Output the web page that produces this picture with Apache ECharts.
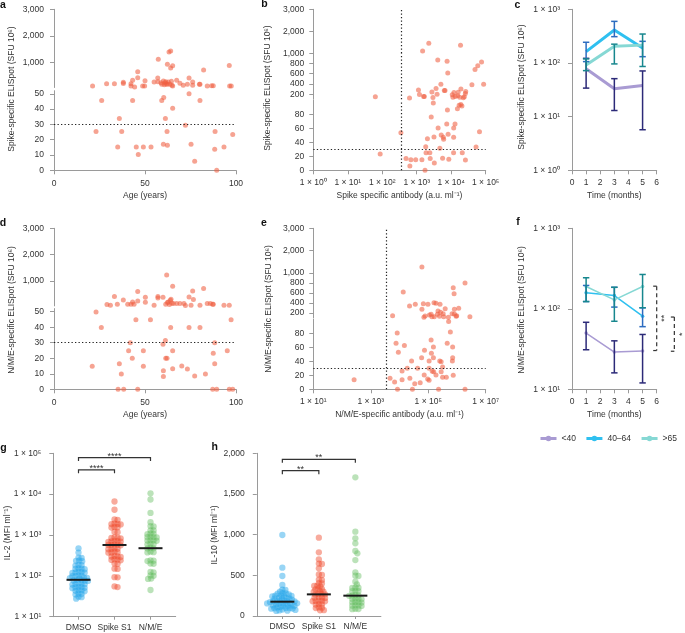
<!DOCTYPE html>
<html><head><meta charset="utf-8">
<script src="https://cdn.jsdelivr.net/npm/echarts@6/dist/echarts.min.js"></script>
<style>html,body{margin:0;padding:0;background:#fff}#c{width:685px;height:633px}</style>
</head><body><div id="c"></div>
<script>
// ---------------- DATA ----------------
// a: age vs Spike-specific ELISpot
const spikeAge = [[21.2,107],[28.9,193],[33.2,193],[38.1,246],[38.1,200],[42.3,193],[42.3,107],[43.2,321],[44.3,69],[46,646],[46,420],[48.7,107],[49.8,107],[50,308],[55,258],[57,407],[57.1,270],[57.3,1113],[58.8,233],[59.2,170],[60.1,295],[60.6,157],[61,233],[61.4,270],[61.7,182],[62.3,170],[62.3,925],[62.8,258],[63.2,1388],[63.7,170],[64.1,1425],[64.1,785],[64.5,283],[64.8,132],[65.2,870],[65.2,107],[67.4,321],[69.2,207],[71,132],[73.3,170],[74.2,407],[76.2,258],[76.2,132],[79.9,170],[80.2,170],[82.2,710],[84.2,107],[86.6,120],[87.5,120],[96.3,883],[96.5,107],[97.4,107],
 [26.2,45.6],[35.9,33.8],[35,15.3],[37.2,25.3],[23.1,25.3],[43.2,45.6],[45.2,15.3],[46.3,10.3],[49.1,15.3],[53.3,15.3],[59.2,45.6],[60.3,47.6],[60.1,17],[61.2,33.8],[62.1,25.3],[62.3,16.4],[65.2,40.6],[72.2,29.5],[74.2,50],[75.3,17],[77.3,5.9],[80.2,45.6],[88.5,25.3],[88.3,13.8],[89.4,0],[93.4,15.3],[98.2,23.4]];
// d: age vs N/M/E-specific ELISpot
const nmeAge = [[29.1,101],[31,76],[33.2,404],[34.8,113],[38.1,278],[40.5,113],[42.3,113],[43.2,202],[44,113],[46,594],[46,240],[50.2,379],[50.2,189],[55,76],[57.1,404],[57.1,354],[59.9,379],[61.4,113],[61.9,1227],[62.3,177],[62.8,202],[63.4,101],[63.9,265],[64.3,303],[64.7,151],[65.2,797],[65.6,139],[67.4,139],[69.2,139],[71.4,139],[72.2,63],[74.2,392],[75.3,76],[76.2,620],[76.6,291],[80.2,76],[82.2,708],[84.2,139],[85.9,139],[87.2,113],[87.5,113],[93.4,76],[96.3,76],
 [21,14.8],[23.1,49.8],[26,39.9],[35.2,0],[35.9,16.5],[37,9.9],[38.3,0],[41,24.9],[41.9,30],[43,20],[45,44.8],[46,0],[49.1,24.9],[49.1,14.8],[53,44.8],[59.9,29],[60.1,12],[60.1,8.2],[61.2,31.5],[61.4,20],[62.1,20],[64.1,39.9],[65.2,24.9],[65.2,13.3],[70.2,15],[73.3,13.1],[74.2,39.9],[77.3,8.6],[80.2,39.9],[83.2,9.9],[87.2,0],[87.5,23.2],[88.3,30],[88.3,16.5],[89.4,0],[95.2,24.9],[96.3,0],[97.3,44.8],[98.2,0]];
// b: Spike antibody vs Spike ELISpot
const spikeAb = [[63,148],[87,23.3],[347,53.8],[490,16.7],[617,123],[631,6.2],[676,15.2],[933,15.2],[1122,284],[1202,194],[1413,15.2],[1479,1108],[1585,155],[1660,155],[1738,0],[1820,33.8],[1862,25.2],[2042,45.2],[2239,1462],[2399,25.2],[2455,16.7],[2630,76.2],[2754,245],[3020,96],[2951,135],[3162,47.6],[3236,10.5],[3631,310],[3890,200],[4074,871],[4169,60.5],[4677,31.4],[5012,394],[5129,50.5],[5623,17.1],[5888,47.1],[6310,271],[6607,271],[6026,44.3],[7413,66.2],[7586,845],[7762,86.2],[7943,613],[8128,51.4],[8511,15.7],[10715,187],[11220,142],[11749,47.1],[11800,60.5],[12023,232],[12882,66.2],[13183,155],[11700,25.2],[15136,88],[15488,168],[15849,239],[16982,93],[17783,142],[18621,1370],[19055,94],[19100,300],[20417,92],[20893,25.2],[22387,129],[23988,148],[25704,213],[25800,14.8],[26303,252],[39811,387],[48978,684],[52481,33.3],[58884,755],[66069,55.2],[75858,832],[87096,394]];
// e: N/M/E antibody vs N/M/E ELISpot
const nmeAb = [[263,13.8],[4677,15.7],[5754,147],[6761,10.5],[7586,65.7],[8318,80.5],[8511,0],[9120,52.9],[12303,26.2],[12300,13.8],[13490,620],[14791,62.4],[18621,30],[22387,340],[22909,15.7],[26303,40.5],[28184,0],[33884,8.1],[35481,373],[42658,30],[52481,9.5],[58884,45.2],[60256,1268],[60300,273],[67608,387],[70795,113],[72444,20.5],[74131,55.7],[77625,140],[95499,14.8],[97724,373],[107152,40.5],[107200,12.9],[107100,30],[109648,160],[125893,70.5],[125900,173],[128825,51.4],[134896,127],[138038,25.7],[151356,45.2],[151400,60.5],[154882,25.2],[158489,407],[162181,127],[186209,393],[186200,20.5],[208930,173],[218776,240],[229087,0],[245471,133],[251189,40.5],[257040,373],[269153,213],[281838,39.5],[281800,25.2],[316228,31.9],[316200,17.1],[331131,187],[346737,127],[389045,287],[426580,17.1],[457088,65.7],[501187,113],[512861,97],[588844,81.9],[676083,187],[691831,40.5],[707946,45.2],[707900,60.5],[741310,707],[741300,20],[794328,587],[812831,273],[812800,180],[933254,133],[977237,147],[1148154,293],[1905461,0],[1905500,800],[2818383,127]];
const spikeAbCut = 350, nmeAbCut = 3500, sfuCut = 30;

// c, f: time courses by age group
const months = [1, 3, 5];
const groups = ['<40', '40–64', '>65'];
const cMean = [[78, 33, 38], [163, 412, 190], [92, 204, 215]];
const cErr = [[[34,122],[13,51],[5.7,71]], [[106,243],[309,596],[131,253]], [[72,119],[96,224],[86,346]]];
const fMean = [[50, 29, 30], [158, 146, 81], [189, 129, 189]];
const fErr = [[[31,68],[16,40],[12,48]], [[123,195],[105,185],[60,103]], [[123,243],[70,185],[103,267]]];
// f significance brackets: [x (months), top, bottom, label]
const fSig = [[6.0, 191, 30.3, '**'], [7.25, 79, 29.7, '*']];

// g, h: cytokines
const stimCats = ['DMSO', 'Spike S1', 'N/M/E'];
const il2DMSO = [473,372,275,280,233,236,228,182,185,178,148,150,145,152,122,124,120,118,126,101,103,99,98,89,90,88,87,77,78,76,79,75,63,64,62,65,61,52,53,51,54,50,44,45,43,42,36,37,35,30,31,27.6];
const il2Spike = [6600,4150,2350,2400,1870,1900,1820,1850,1550,1580,1520,1170,1190,850,870,830,860,700,720,690,710,680,575,580,570,560,590,460,470,455,450,380,390,375,370,296,300,290,305,245,250,240,255,197,200,148,150,92,93,53,55];
const il2NME = [10500,7400,3480,2050,1620,1650,1290,1300,1070,1080,1050,880,890,870,900,730,740,720,750,600,610,590,473,480,470,380,390,375,235,240,230,197,200,122,125,100,102,84,86,45];
const il2Median = [80, 570, 475];
const il2Sig = [[1, 3, 78700, '****'], [1, 2, 39400, '****']];
const il10DMSO = [996,594,492,381,320,325,279,282,276,250,252,248,246,217,220,215,213,222,184,188,180,186,182,178,156,160,152,158,154,150,127,130,125,122,128,94,97,92,90,96,65,68,62,200,170,140,110,240,265,300,75,80,105];
const il10Spike = [963,783,697,639,645,586,504,510,442,448,401,405,369,372,365,332,335,328,299,302,296,266,270,262,268,225,228,222,230,184,188,180,186,182,143,146,140,102,105,98,70,72];
const il10NME = [1705,1037,955,893,799,770,688,537,492,496,422,389,348,350,345,307,310,304,250,252,248,255,209,212,206,215,168,170,165,172,127,130,124,132,86,88,84];
const il10Median = [176, 266, 250];
const il10Sig = [[1, 3, 1926, '**'], [1, 2, 1786, '**']];

// ---------------- STYLE ----------------
const AX = '#9a9a9a', TX = '#333', FS = 8.5, FF = '"Liberation Sans", Arial, sans-serif';
const DOT = 'rgba(240,96,66,0.72)';
const lineCol = ['#a99bd3', '#2fc0f0', '#86d8d4'];
const barCol = ['#2c2a78', '#2c6cc0', '#17878e'];
const swarmCol = ['rgba(40,168,235,0.6)', 'rgba(240,80,50,0.6)', 'rgba(100,190,95,0.55)'];
const SUP = {'0':'⁰','1':'¹','2':'²','3':'³','4':'⁴','5':'⁵','6':'⁶','7':'⁷','8':'⁸','9':'⁹','-':'⁻'};
const sup = s => String(s).split('').map(c => SUP[c] || c).join('');
const sci = v => '1 × 10' + sup(Math.round(Math.log10(v)));
const comma = v => Number(v).toLocaleString('en-US');

const grids = [
  {left:54, top:9.3, width:182, height:78.2},      // 0 a top
  {left:54, top:90.7, width:182, height:79.6},     // 1 a bottom
  {left:313.3, top:9.3, width:172.4, height:44},   // 2 b top
  {left:313.3, top:53.3, width:172.4, height:46},  // 3 b mid
  {left:313.3, top:100.3, width:172.4, height:70}, // 4 b bottom
  {left:572, top:9.3, width:84.7, height:161},     // 5 c
  {left:54, top:228.3, width:182, height:77.6},    // 6 d top
  {left:54, top:308.6, width:182, height:80.7},    // 7 d bottom
  {left:313.3, top:228.3, width:172.4, height:44.7},// 8 e top
  {left:313.3, top:273, width:172.4, height:45},   // 9 e mid
  {left:313.3, top:319.3, width:172.4, height:70}, // 10 e bottom
  {left:572, top:228.3, width:84.7, height:161},   // 11 f
  {left:53.3, top:453.3, width:122.4, height:163.4},// 12 g
  {left:256.8, top:453.3, width:124.1, height:162.7}// 13 h
].map(g => Object.assign({containLabel:false, outerBoundsMode:'none'}, g));

function axis(g, o) {
  const a = {gridIndex:g, type:o.type || 'value', min:o.min, max:o.max, show:o.show !== false,
    axisLine:{show:true, onZero:false, lineStyle:{color:AX, width:1}},
    axisTick:{show:o.tick !== 0, length:o.tick || 4, lineStyle:{color:AX}},
    axisLabel:{color:TX, fontSize:FS, fontFamily:FF, margin:o.margin == null ? 8 : o.margin, formatter:o.fmt, showMinLabel:true, showMaxLabel:true, hideOverlap:false},
    splitLine:{show:false}, minorTick:{show:false}};
  if (o.interval) a.interval = o.interval;
  if (o.vals) { a.axisLabel.customValues = o.vals; a.axisTick.customValues = o.vals; }
  if (o.type === 'log') a.logBase = 10;
  if (o.name) { a.name = o.name; a.nameLocation = 'middle'; a.nameGap = o.nameGap || 21;
    a.nameTextStyle = {color:TX, fontSize:FS, fontFamily:FF}; }
  return a;
}

const xAxes = [
  axis(0, {min:0, max:100, show:false}),
  axis(1, {min:0, max:100, interval:50, margin:9, name:'Age (years)'}),
  axis(2, {type:'log', min:1, max:1e5, show:false}),
  axis(3, {type:'log', min:1, max:1e5, show:false}),
  axis(4, {type:'log', min:1, max:1e5, fmt:sci, margin:8, name:'Spike specific antibody (a.u. ml' + sup('-1') + ')'}),
  axis(5, {min:0, max:6, interval:1, margin:8, name:'Time (months)'}),
  axis(6, {min:0, max:100, show:false}),
  axis(7, {min:0, max:100, interval:50, margin:9, name:'Age (years)'}),
  axis(8, {type:'log', min:10, max:1e7, show:false}),
  axis(9, {type:'log', min:10, max:1e7, show:false}),
  axis(10, {type:'log', min:10, max:1e7, fmt:sci, vals:[10, 1e3, 1e5, 1e7], margin:8, name:'N/M/E-specific antibody (a.u. ml' + sup('-1') + ')'}),
  axis(11, {min:0, max:6, interval:1, margin:8, name:'Time (months)'}),
  axis(12, {min:0.3, max:3.7, vals:[1, 2, 3], fmt:v => stimCats[Math.round(v) - 1], margin:6, tick:3}),
  axis(13, {min:0.3, max:3.7, vals:[1, 2, 3], fmt:v => stimCats[Math.round(v) - 1], margin:6, tick:3})
];
const yAxes = [
  axis(0, {min:50, max:3000, vals:[1000, 2000, 3000], fmt:comma, margin:10}),
  axis(1, {min:0, max:52, vals:[0, 10, 20, 30, 40, 50], margin:10}),
  axis(2, {min:1000, max:3000, vals:[2000, 3000], fmt:comma, margin:9}),
  axis(3, {min:100, max:1000, vals:[200, 400, 600, 800, 1000], fmt:comma, margin:9}),
  axis(4, {min:0, max:100, vals:[0, 20, 40, 60, 80], margin:9}),
  axis(5, {type:'log', min:1, max:1000, fmt:sci, margin:12}),
  axis(6, {min:50, max:3000, vals:[1000, 2000, 3000], fmt:comma, margin:10}),
  axis(7, {min:0, max:52, vals:[0, 10, 20, 30, 40, 50], margin:10}),
  axis(8, {min:1000, max:3000, vals:[2000, 3000], fmt:comma, margin:9}),
  axis(9, {min:100, max:1000, vals:[200, 400, 600, 800, 1000], fmt:comma, margin:9}),
  axis(10, {min:0, max:100, vals:[0, 20, 40, 60, 80], margin:9}),
  axis(11, {type:'log', min:10, max:1000, fmt:sci, margin:12}),
  axis(12, {type:'log', min:10, max:1e5, fmt:sci, margin:12}),
  axis(13, {min:0, max:2000, interval:500, fmt:comma, margin:12})
];

const dotted = {type:[1.3, 2.2], color:'#222', width:1.2};
function mark(lines) {
  return {silent:true, symbol:'none', animation:false, label:{show:false}, lineStyle:dotted, data:lines};
}
function scatter(g, data, lines) {
  return {type:'scatter', xAxisIndex:g, yAxisIndex:g, data:data, symbolSize:5,
    itemStyle:{color:DOT}, markLine:lines ? mark(lines) : undefined, z:3};
}
const series = [];
// a
series.push(scatter(0, spikeAge.filter(p => p[1] > 52)));
series.push(scatter(1, spikeAge.filter(p => p[1] <= 52), [{yAxis:sfuCut}]));
// d
series.push(scatter(6, nmeAge.filter(p => p[1] > 52)));
series.push(scatter(7, nmeAge.filter(p => p[1] <= 52), [{yAxis:sfuCut}]));
// b
series.push(scatter(2, spikeAb.filter(p => p[1] > 1000), [{xAxis:spikeAbCut}]));
series.push(scatter(3, spikeAb.filter(p => p[1] > 100 && p[1] <= 1000), [{xAxis:spikeAbCut}]));
series.push(scatter(4, spikeAb.filter(p => p[1] <= 100), [{xAxis:spikeAbCut}, {yAxis:sfuCut}]));
// e
series.push(scatter(8, nmeAb.filter(p => p[1] > 1000), [{xAxis:nmeAbCut}]));
series.push(scatter(9, nmeAb.filter(p => p[1] > 100 && p[1] <= 1000), [{xAxis:nmeAbCut}]));
series.push(scatter(10, nmeAb.filter(p => p[1] <= 100), [{xAxis:nmeAbCut}, {yAxis:sfuCut}]));

// c, f lines and error bars
function errSeries(g, errs, color) {
  return {type:'custom', xAxisIndex:g, yAxisIndex:g, z:5, silent:true,
    data: months.map((m, i) => [m, errs[i][0], errs[i][1]]),
    encode:{x:0, y:[1, 2]},
    renderItem: (params, api) => {
      const x = api.value(0);
      const p1 = api.coord([x, api.value(2)]), p2 = api.coord([x, api.value(1)]);
      const w = 3.2, st = {stroke:color, lineWidth:1.5};
      return {type:'group', children:[
        {type:'line', shape:{x1:p1[0], y1:p1[1], x2:p2[0], y2:p2[1]}, style:st},
        {type:'line', shape:{x1:p1[0]-w, y1:p1[1], x2:p1[0]+w, y2:p1[1]}, style:st},
        {type:'line', shape:{x1:p2[0]-w, y1:p2[1], x2:p2[0]+w, y2:p2[1]}, style:st}]};
    }};
}
groups.forEach((name, k) => {
  series.push({type:'line', name:name, xAxisIndex:11, yAxisIndex:11, z:4,
    data: months.map((m, i) => [m, fMean[k][i]]), symbol:'circle', symbolSize:3.5, showSymbol:true,
    lineStyle:{color:lineCol[k], width:1.5}, itemStyle:{color:lineCol[k]}});
});
groups.forEach((name, k) => {
  series.push({type:'line', name:name, xAxisIndex:5, yAxisIndex:5, z:4,
    data: months.map((m, i) => [m, cMean[k][i]]), symbol:'none', showSymbol:false,
    lineStyle:{color:lineCol[k], width:3}, itemStyle:{color:lineCol[k]}});
});
groups.forEach((name, k) => {
  series.push(errSeries(5, cErr[k], barCol[k]));
  series.push(errSeries(11, fErr[k], barCol[k]));
});
// f significance brackets (dashed)
series.push({type:'custom', xAxisIndex:11, yAxisIndex:11, clip:false, silent:true, z:6,
  data: fSig.map(s => [s[0], s[1], s[2]]),
  renderItem: (params, api) => {
    const s = fSig[params.dataIndex];
    const p1 = api.coord([api.value(0), api.value(1)]), p2 = api.coord([api.value(0), api.value(2)]);
    const st = {stroke:'#333', lineWidth:1.2, lineDash:[4, 3]};
    return {type:'group', children:[
      {type:'line', shape:{x1:p1[0], y1:p1[1], x2:p2[0], y2:p2[1]}, style:st},
      {type:'line', shape:{x1:p1[0]-3.5, y1:p1[1], x2:p1[0], y2:p1[1]}, style:{stroke:'#333', lineWidth:1.2}},
      {type:'line', shape:{x1:p2[0]-3.5, y1:p2[1], x2:p2[0], y2:p2[1]}, style:{stroke:'#333', lineWidth:1.2}},
      {type:'text', x:p1[0] + 8, y:(p1[1] + p2[1]) / 2, rotation:Math.PI / 2,
        style:{text:s[3], fill:'#333', fontSize:9, fontFamily:FF, align:'center', verticalAlign:'middle'}}]};
  }});

// g, h swarms, medians, significance
function swarmSeries(id, g, vals, k) {
  return {id:id, type:'scatter', xAxisIndex:g, yAxisIndex:g, z:3, symbolSize:6.3,
    itemStyle:{color:swarmCol[k]}, data: vals.map(v => [k + 1, v])};
}
series.push(swarmSeries('g0', 12, il2DMSO, 0), swarmSeries('g1', 12, il2Spike, 1), swarmSeries('g2', 12, il2NME, 2));
series.push(swarmSeries('h0', 13, il10DMSO, 0), swarmSeries('h1', 13, il10Spike, 1), swarmSeries('h2', 13, il10NME, 2));
function medianSeries(g, med) {
  return {type:'custom', xAxisIndex:g, yAxisIndex:g, z:6, silent:true,
    data: med.map((m, i) => [i + 1, m]),
    renderItem: (params, api) => {
      const p = api.coord([api.value(0), api.value(1)]);
      return {type:'line', shape:{x1:p[0]-12, y1:p[1], x2:p[0]+12, y2:p[1]}, style:{stroke:'#1a1a1a', lineWidth:2}};
    }};
}
function sigSeries(g, sig) {
  return {type:'custom', xAxisIndex:g, yAxisIndex:g, z:6, silent:true, clip:false,
    data: sig.map(s => [s[0], s[1], s[2]]),
    renderItem: (params, api) => {
      const a = api.coord([api.value(0), api.value(2)]), b = api.coord([api.value(1), api.value(2)]);
      const st = {stroke:'#333', lineWidth:1.2, fill:null};
      return {type:'group', children:[
        {type:'polyline', shape:{points:[[a[0], a[1]+3.5], [a[0], a[1]], [b[0], b[1]], [b[0], b[1]+3.5]]}, style:st},
        {type:'text', x:(a[0]+b[0]) / 2, y:a[1] - 1.5, style:{text:sig[params.dataIndex][3], fill:'#333', fontSize:9, fontFamily:FF, align:'center', verticalAlign:'middle'}}]};
    }};
}
series.push(medianSeries(12, il2Median), medianSeries(13, il10Median), sigSeries(12, il2Sig), sigSeries(13, il10Sig));

// titles & panel letters
const tStyle = {fill:TX, fontSize:FS, fontFamily:FF, align:'center', verticalAlign:'middle'};
function ytitle(x, y, text) { return {type:'text', x:x, y:y, rotation:Math.PI / 2, style:Object.assign({text:text}, tStyle)}; }
function letter(x, y, t) { return {type:'text', x:x, y:y, style:{text:t, fill:'#111', fontSize:10.5, fontWeight:'bold', fontFamily:FF, align:'center', verticalAlign:'middle'}}; }
const spikeT = 'Spike-specific ELISpot (SFU 10' + sup(6) + ')';
const nmeT = 'N/M/E-specific ELISpot (SFU 10' + sup(6) + ')';
const graphic = [
  ytitle(11.7, 89, spikeT), ytitle(267.8, 88, spikeT), ytitle(521.7, 87, spikeT),
  ytitle(11.7, 310, nmeT), ytitle(268.3, 309, nmeT), ytitle(521.7, 310, nmeT),
  ytitle(8, 533, 'IL-2 (MFI ml' + sup('-1') + ')'), ytitle(215, 535, 'IL-10 (MFI ml' + sup('-1') + ')'),
  letter(3, 5, 'a'), letter(264.5, 4.5, 'b'), letter(517.5, 5, 'c'),
  letter(3, 223, 'd'), letter(264, 223, 'e'), letter(518, 222.5, 'f'),
  letter(3.5, 448, 'g'), letter(214.8, 447.5, 'h')
];

const chart = echarts.init(document.getElementById('c'), null, {renderer:'canvas'});
const option = {
  animation:false, backgroundColor:'#fff',
  textStyle:{fontFamily:FF},
  grid:grids, xAxis:xAxes, yAxis:yAxes, series:series, graphic:graphic,
  legend:{left:539, top:434, width:300, orient:'horizontal', itemWidth:16, itemHeight:7, itemGap:9, selectedMode:false,
    padding:0, data:groups, textStyle:{color:TX, fontSize:FS, fontFamily:FF},
    lineStyle:{width:3}}
};
chart.setOption(option);

// beeswarm layout computed from the axis scale
function swarmLayout(g, vals, k, D) {
  const base = chart.convertToPixel({gridIndex:g}, [k + 1, 1000]);
  const next = chart.convertToPixel({gridIndex:g}, [k + 2, 1000]);
  const unit = next[0] - base[0];
  const pts = vals.map(v => ({v:v, py:chart.convertToPixel({gridIndex:g}, [k + 1, v])[1]}));
  pts.sort((a, b) => a.py - b.py);
  const placed = [];
  for (const p of pts) {
    const near = placed.filter(q => Math.abs(q.py - p.py) < D);
    const cands = [0];
    for (const q of near) { const dx = Math.sqrt(D * D - (q.py - p.py) ** 2); cands.push(q.px + dx + 0.01, q.px - dx - 0.01); }
    cands.sort((a, b) => Math.abs(a) - Math.abs(b));
    for (const c of cands) {
      if (near.every(q => (q.px - c) ** 2 + (q.py - p.py) ** 2 >= D * D - 0.01)) { p.px = c; break; }
    }
    placed.push(p);
  }
  return placed.map(p => [k + 1 + p.px / unit, p.v]);
}
const DS = 3.1;
chart.setOption({series:[
  {id:'g0', data:swarmLayout(12, il2DMSO, 0, DS)},
  {id:'g1', data:swarmLayout(12, il2Spike, 1, DS)},
  {id:'g2', data:swarmLayout(12, il2NME, 2, DS)},
  {id:'h0', data:swarmLayout(13, il10DMSO, 0, DS)},
  {id:'h1', data:swarmLayout(13, il10Spike, 1, DS)},
  {id:'h2', data:swarmLayout(13, il10NME, 2, DS)}
]});
</script></body></html>
